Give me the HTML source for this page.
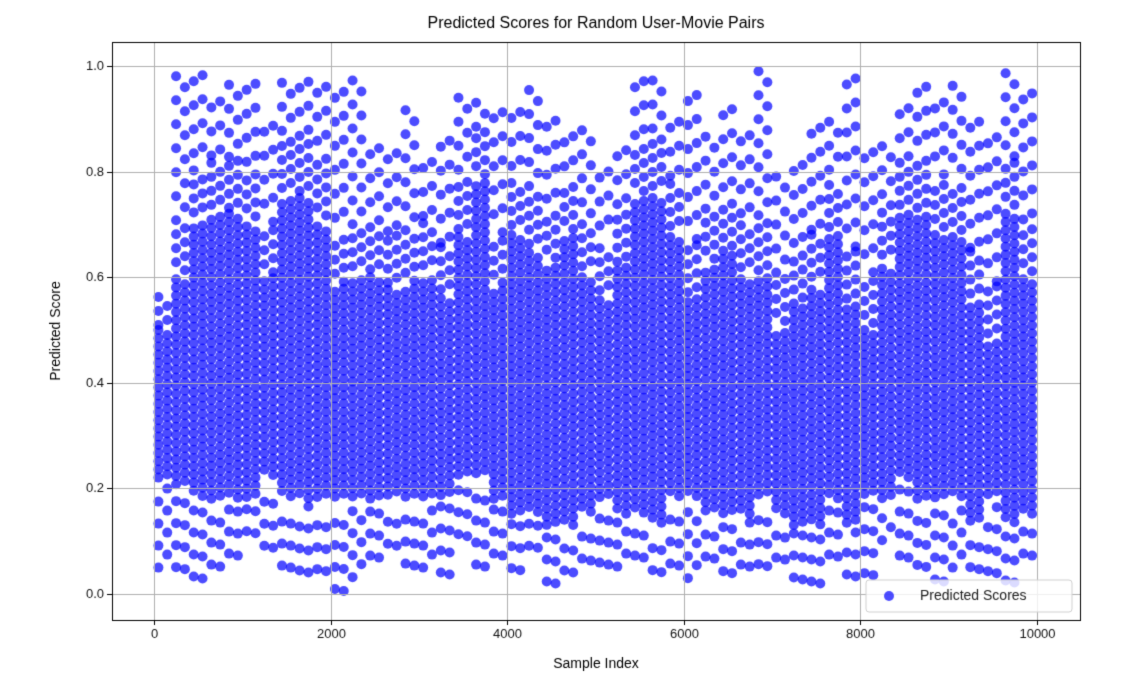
<!DOCTYPE html>
<html><head><meta charset="utf-8"><style>
body{margin:0;background:#fff;font-family:"Liberation Sans","DejaVu Sans",sans-serif;}
#wrap{position:relative;width:1127px;height:681px;}
canvas{position:absolute;left:0;top:0;}
</style></head><body>
<div id="wrap">
<canvas id="c" width="1127" height="681"></canvas>
</div>
<script>
// per-bin data (each bin = 200 samples): dense core range and sparse extent
const binStarts = [0,200,400,600,800,1000,1200,1400,1600,1800,2000,2200,2400,2600,2800,3000,3200,3400,3600,3800,4000,4200,4400,4600,4800,5000,5200,5400,5600,5800,6000,6200,6400,6600,6800,7000,7200,7400,7600,7800,8000,8200,8400,8600,8800,9000,9200,9400,9600,9800];
const coreLo = [0.22,0.2,0.18,0.18,0.18,0.18,0.22,0.18,0.18,0.18,0.18,0.18,0.18,0.18,0.18,0.18,0.18,0.22,0.22,0.18,0.15,0.15,0.13,0.13,0.15,0.18,0.15,0.15,0.13,0.18,0.18,0.15,0.15,0.15,0.18,0.15,0.13,0.13,0.18,0.13,0.18,0.18,0.22,0.18,0.18,0.18,0.13,0.18,0.13,0.15];
const coreHi = [0.5,0.6,0.7,0.72,0.72,0.7,0.6,0.75,0.75,0.7,0.58,0.6,0.6,0.58,0.58,0.6,0.56,0.68,0.78,0.58,0.68,0.65,0.62,0.68,0.6,0.56,0.62,0.75,0.75,0.68,0.56,0.62,0.65,0.6,0.6,0.5,0.55,0.58,0.68,0.55,0.5,0.62,0.72,0.72,0.68,0.68,0.55,0.48,0.72,0.6];
const sparseMin = [0.05,0.03,0.02,0.05,0.05,0.1,0.08,0.05,0.02,0.03,0.0,0.03,0.05,0.08,0.05,0.05,0.02,0.1,0.05,0.05,0.03,0.08,0.02,0.02,0.05,0.05,0.05,0.05,0.03,0.05,0.03,0.05,0.03,0.05,0.03,0.05,0.02,0.02,0.05,0.02,0.03,0.1,0.05,0.04,0.02,0.05,0.03,0.03,0.02,0.05];
const sparseMax = [0.57,0.99,0.99,0.95,0.97,0.97,0.9,0.97,0.97,0.97,0.97,0.98,0.85,0.85,0.92,0.82,0.87,0.94,0.94,0.92,0.93,0.96,0.9,0.88,0.88,0.8,0.85,0.99,0.98,0.9,0.96,0.87,0.92,0.88,0.99,0.8,0.82,0.9,0.9,0.98,0.85,0.85,0.92,0.97,0.95,0.97,0.9,0.88,0.99,0.95];
const binSize = 200;
const xTicks = [0,2000,4000,6000,8000,10000];
const yTicks = [0.0,0.2,0.4,0.6,0.8,1.0];

const L=112,T=42,R=1080,B=620;
const xs = v => 154 + v*(1036.5-154)/10000;
const ys = v => 594 - v*(594-66);

const cv=document.getElementById('c'), g=cv.getContext('2d');
g.fillStyle='#fff'; g.fillRect(0,0,1127,681);
g.fillStyle='rgba(0,0,255,0.7)';
function dot(x,y){g.beginPath();g.arc(x,y,5,0,Math.PI*2);g.fill();}
const step = 100;
for(let k=0, s=0; s<10000; s+=step, k++){
  const i=Math.min(binStarts.length-1, Math.floor(s/binSize));
  const x=xs(s+step/2);
  const yTop=ys(coreHi[i]), yBot=ys(coreLo[i]);
  const ph=(k*37)%8;
  for(let y=yTop+ph;y<=yBot;y+=8.2) dot(x,y);
  for(let y=yTop-5-((k*5)%13);y>yTop-55&&y>ys(sparseMax[i]);y-=14) dot(x,y);
  for(let y=ys(sparseMax[i])+((k*11)%17);y<yTop-55;y+=24) dot(x,y);
  for(let y=ys(sparseMin[i])-((k*13)%15);y>yBot+7;y-=22) dot(x,y);
}
// grid
g.strokeStyle='#b0b0b0'; g.lineWidth=1;
xTicks.forEach(t=>{const x=Math.round(xs(t))+0.5;g.beginPath();g.moveTo(x,T);g.lineTo(x,B);g.stroke();});
yTicks.forEach(t=>{const y=Math.round(ys(t))+0.5;g.beginPath();g.moveTo(L,y);g.lineTo(R,y);g.stroke();});
g.fillStyle='#fff';
g.fillRect(0,0,1127,T);g.fillRect(0,B,1127,681-B);g.fillRect(0,0,L,681);g.fillRect(R,0,1127-R,681);
g.strokeStyle='#000';g.lineWidth=1;g.strokeRect(L+0.5,T+0.5,R-L,B-T);
g.fillStyle='#111';g.font='13px "Liberation Sans", sans-serif';
g.textAlign='center';g.textBaseline='top';
xTicks.forEach(t=>{const x=Math.round(xs(t))+0.5;g.beginPath();g.moveTo(x,B);g.lineTo(x,B+5);g.stroke();g.fillText(String(t),x,B+8);});
g.textAlign='right';g.textBaseline='middle';
yTicks.forEach(t=>{const y=Math.round(ys(t))+0.5;g.beginPath();g.moveTo(L-5,y);g.lineTo(L,y);g.stroke();g.fillText(t.toFixed(1),L-8,y);});
g.fillStyle='#000';g.textAlign='center';g.textBaseline='middle';
g.font='16px "Liberation Sans", sans-serif';g.fillText('Predicted Scores for Random User-Movie Pairs',596,24);
g.font='14px "Liberation Sans", sans-serif';g.fillText('Sample Index',596,664);
g.save();g.translate(56,331);g.rotate(-Math.PI/2);g.fillText('Predicted Score',0,0);g.restore();
g.fillStyle='rgba(255,255,255,0.8)';g.strokeStyle='#d0d0d0';
g.beginPath();g.roundRect(866,580,206,32,3);g.fill();g.stroke();
g.fillStyle='rgba(0,0,255,0.7)';dot(889,596);
g.fillStyle='#222';g.textAlign='left';g.font='14px "Liberation Sans", sans-serif';g.fillText('Predicted Scores',920,596);
</script>
</body></html>
